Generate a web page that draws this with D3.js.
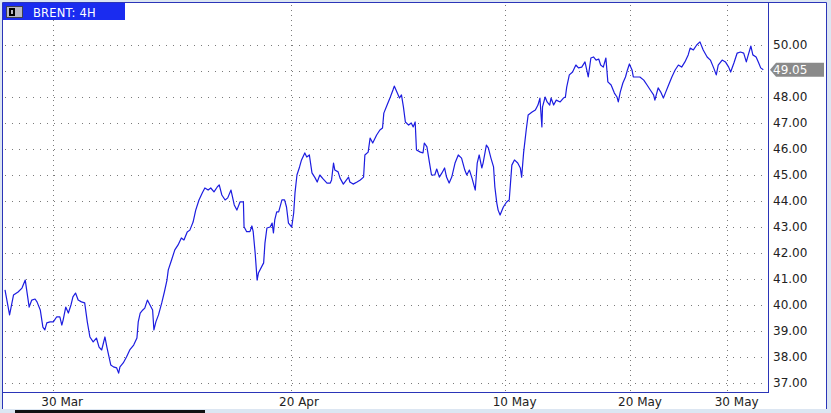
<!DOCTYPE html>
<html>
<head>
<meta charset="utf-8">
<script src="https://cdn.jsdelivr.net/npm/d3@7"></script>
<style>
  html, body { margin: 0; padding: 0; background: #dce6f2; }
  svg { display: block; }
  text { font-family: "DejaVu Sans", sans-serif; }
</style>
</head>
<body>
<svg id="chart" width="831" height="413"></svg>
<script>
// ---- data (hours since first bar, 4H Brent closes) ----
const hours = [0,7,13,20,26,31,37,41,46,49,54,58,61,64,69,74,79,84,87,89,93,97,101,104,108,112,117,122,126,130,135,140,144,148,153,156,158,162,166,171,174,176,181,186,191,197,202,204,207,211,214,218,222,226,228,231,235,240,244,248,250,255,260,265,270,274,279,283,288,292,297,302,306,311,315,320,325,328,332,337,341,346,351,355,360,365,366,370,375,378,380,383,386,388,396,398,401,406,409,411,413,416,419,424,428,431,434,439,442,444,447,451,454,459,462,466,470,475,478,482,487,493,498,500,503,505,510,513,518,526,528,533,539,544,549,551,556,559,563,569,574,578,580,585,590,594,596,600,604,607,610,613,618,622,625,628,630,636,640,642,646,650,653,658,661,665,669,673,676,680,684,689,694,699,704,707,711,715,720,723,726,730,732,737,740,744,748,750,753,755,758,763,768,772,776,780,785,789,791,794,798,801,807,812,816,819,822,823,827,830,834,836,840,844,850,855,858,860,864,869,874,878,883,888,893,897,901,905,909,912,916,920,923,928,933,937,939,942,946,950,953,956,960,962,967,972,978,983,988,993,995,1000,1004,1008,1011,1016,1021,1026,1031,1036,1041,1046,1049,1054,1059,1064,1069,1075,1080,1085,1089,1092,1098,1103,1108,1111,1116,1121,1126,1131,1135,1138,1142,1145,1150,1154,1157,1161];
const prices = [40.58,39.62,40.38,40.50,40.65,40.96,39.92,40.19,40.23,40.12,39.81,39.15,39.04,39.31,39.35,39.35,39.54,39.54,39.23,39.42,39.92,39.69,40.00,40.31,40.46,40.19,40.12,40.08,39.35,38.77,38.58,38.73,38.38,38.27,38.77,38.38,38.15,37.69,37.62,37.58,37.38,37.62,37.77,38.00,38.27,38.46,38.73,39.35,39.69,39.81,39.88,40.19,40.00,39.81,39.04,39.35,39.62,40.08,40.50,40.96,41.35,41.73,42.12,42.31,42.58,42.50,42.81,42.88,43.19,43.65,44.04,44.31,44.50,44.42,44.50,44.35,44.54,44.62,44.23,44.04,44.12,44.42,43.85,43.65,43.97,43.97,43.01,42.82,42.82,43.04,42.82,42.00,40.96,41.23,41.62,42.38,42.96,43.00,43.15,42.77,43.27,43.58,43.58,44.04,44.04,43.77,43.15,43.00,43.54,44.31,45.00,45.31,45.58,45.85,45.69,45.77,45.08,44.88,44.73,45.00,44.85,44.69,44.69,44.81,45.46,45.19,45.12,44.88,44.65,44.92,44.73,44.65,44.73,44.81,44.92,45.77,45.88,46.42,46.23,46.54,46.73,46.81,47.38,47.69,48.00,48.27,48.42,48.19,47.96,48.08,47.62,47.04,46.92,47.00,46.85,47.04,45.96,45.88,45.85,46.23,46.08,45.46,45.00,45.00,45.23,44.92,45.08,45.27,44.92,44.69,44.92,45.46,45.77,45.65,45.19,45.00,45.19,44.88,44.42,45.46,45.77,45.27,45.46,46.15,46.04,45.65,45.31,44.54,43.92,43.65,43.46,43.77,43.96,44.04,45.38,45.58,45.46,45.27,44.92,45.85,46.73,47.31,47.42,47.50,47.69,47.96,46.85,47.62,48.00,47.81,47.69,47.96,47.69,47.88,47.81,47.96,48.00,48.38,48.85,48.96,49.23,49.12,49.15,49.35,48.77,49.50,49.54,49.42,49.46,49.23,49.15,49.50,48.58,48.46,48.15,48.00,47.81,48.19,48.54,48.77,49.04,49.27,49.04,48.77,48.77,48.77,48.65,48.46,48.27,48.08,47.88,48.35,48.19,47.96,48.15,48.46,48.77,49.04,49.23,49.15,49.35,49.62,49.88,49.81,50.00,50.12,49.81,49.54,49.42,49.12,48.85,49.23,49.42,49.35,49.15,48.96,49.31,49.69,49.73,49.69,49.35,49.62,49.96,49.62,49.54,49.31,49.12,49.05];
const tickHours = [74, 438, 765, 957, 1105];
const tickLabels = ["30 Mar", "20 Apr", "10 May", "20 May", "30 May"];
const priceTicks = [37,38,39,40,41,42,43,44,45,46,47,48,49,50];
const lastPrice = 49.05;
const title = "BRENT: 4H";

// ---- layout ----
const svg = d3.select("#chart");
const W = 831, H = 413;
const plot = { left: 3, top: 3, right: 768, bottom: 392 };
const borderBlue = "#2b35b8";

const x = d3.scaleLinear().domain([0, 1161]).range([5, 763.3]);
const y = d3.scaleLinear().domain([37, 50]).range([383, 45]);

// background + white panel
svg.append("rect").attr("width", W).attr("height", H).attr("fill", "#dce6f2");
svg.append("rect").attr("x", 3).attr("y", 3).attr("width", 823).attr("height", 406).attr("fill", "#ffffff");
// outer blue frame (left, top, right)
svg.append("path")
  .attr("d", "M2.5,409 V2.5 H826.5 V409")
  .attr("fill", "none").attr("stroke", borderBlue).attr("stroke-width", 1);

// grid
const grid = svg.append("g").attr("shape-rendering", "crispEdges");
grid.selectAll("line.h").data(priceTicks).join("line")
  .attr("class", "h")
  .attr("x1", plot.left + 2).attr("x2", plot.right)
  .attr("y1", d => Math.round(y(d)) + 0.5).attr("y2", d => Math.round(y(d)) + 0.5)
  .attr("stroke", "#7a7a7a").attr("stroke-dasharray", "1,6");
grid.selectAll("line.v").data(tickHours).join("line")
  .attr("class", "v")
  .attr("x1", d => Math.round(x(d)) + 0.5).attr("x2", d => Math.round(x(d)) + 0.5)
  .attr("y1", plot.top + 2).attr("y2", plot.bottom)
  .attr("stroke", "#7a7a7a").attr("stroke-dasharray", "1,4");

// price line
const pts = d3.zip(hours, prices);
svg.append("path")
  .datum(pts)
  .attr("fill", "none")
  .attr("stroke", "#1c1ce0")
  .attr("stroke-width", 1.2)
  .attr("stroke-linejoin", "round")
  .attr("d", d3.line().x(d => x(d[0])).y(d => y(d[1])));

// plot frame: right + bottom axis lines
svg.append("path")
  .attr("d", `M${plot.left},${plot.bottom + 0.5} H${plot.right + 0.5} V${plot.top}`)
  .attr("fill", "none").attr("stroke", borderBlue).attr("stroke-width", 1)
  .attr("shape-rendering", "crispEdges");

// y axis labels (right)
const yAxis = d3.axisRight(y).tickValues(priceTicks).tickFormat(d3.format(".2f")).tickSize(0).tickPadding(0);
const gy = svg.append("g").attr("transform", `translate(${plot.right + 5},0)`).call(yAxis);
gy.select(".domain").remove();
gy.selectAll("text").attr("font-size", 12).attr("fill", "#222").attr("font-family", "DejaVu Sans, sans-serif");

// x axis labels
const gx = svg.append("g");
gx.selectAll("text").data(d3.zip(tickHours, tickLabels)).join("text")
  .attr("x", d => x(d[0]) - 12)
  .attr("y", 406)
  .attr("font-size", 12).attr("fill", "#222")
  .text(d => d[1]);

// last price marker
const ly = y(lastPrice);
svg.append("path")
  .attr("d", `M${plot.right + 2},${ly} L${plot.right + 8},${ly - 7} H${plot.right + 56} V${ly + 7} H${plot.right + 8} Z`)
  .attr("fill", "#8a8a8a");
svg.append("text")
  .attr("x", plot.right + 5).attr("y", ly).attr("dy", "0.36em")
  .attr("font-size", 12).attr("fill", "#ffffff")
  .text(d3.format(".2f")(lastPrice));

// title tab
svg.append("rect").attr("x", 3).attr("y", 3).attr("width", 122).attr("height", 17).attr("fill", "#1a2cf0");
svg.append("rect").attr("x", 6.5).attr("y", 6.5).attr("width", 16).attr("height", 11)
  .attr("fill", "#b8b8c0").attr("stroke", "#404050");
svg.append("rect").attr("x", 9).attr("y", 8).attr("width", 6).attr("height", 8).attr("fill", "#000");
svg.append("rect").attr("x", 11).attr("y", 10).attr("width", 2).attr("height", 4).attr("fill", "#b8b8c0");
svg.append("text").attr("x", 33).attr("y", 16.5)
  .attr("font-size", 11.5).attr("fill", "#ffffff").attr("letter-spacing", 0.2)
  .text(title);

// bottom strip scroll thumb
svg.append("rect").attr("x", 15).attr("y", 410).attr("width", 190).attr("height", 3).attr("fill", "#111");
</script>
</body>
</html>
